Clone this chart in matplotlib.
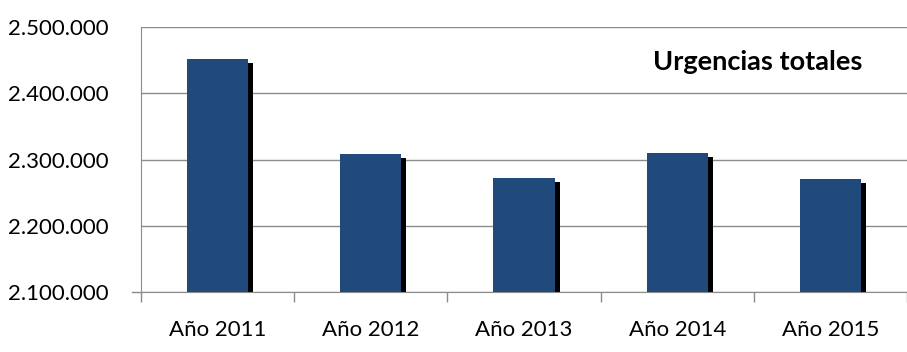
import numpy as np
import matplotlib
matplotlib.use("Agg")
import matplotlib.pyplot as plt
from matplotlib.ticker import FuncFormatter

# data
years = ["Año 2011", "Año 2012", "Año 2013", "Año 2014", "Año 2015"]
urgencias = [2451000, 2309000, 2272500, 2309500, 2270500]

bar_color = "#214a7c"
grid_color = "#8c8c8c"

plt.rcParams["font.family"] = ["Lato", "DejaVu Sans"]

fig = plt.figure(figsize=(9.07, 3.52), dpi=100)
# plot area: left 141px, top 27px, bottom 292px, runs off the right edge
ax = fig.add_axes([141 / 907, 1 - 292 / 352, (907 - 141) / 907, (292 - 27) / 352])

x = np.arange(len(years))
width = 0.40
base = 2100000
# px -> data offsets for the drop shadow
dx = 5 / 156
dy = 4 / 265 * 400000

vals = np.array(urgencias)
ax.bar(x + dx, vals - dy - base, width=width, bottom=base, color="black", zorder=2)
ax.bar(x, vals - base, width=width, bottom=base, color=bar_color, zorder=3)

ax.set_ylim(2100000, 2500000)
ax.set_yticks(np.arange(2100000, 2500001, 100000))
ax.yaxis.set_major_formatter(FuncFormatter(lambda v, p: f"{int(v):,}".replace(",", ".")))
ax.set_xlim(-0.5, 4.5 - 14 / 156)

ax.grid(axis="y", color=grid_color, linewidth=1, zorder=0)
ax.set_axisbelow(True)

for s in ["top", "right"]:
    ax.spines[s].set_visible(False)
ax.spines["left"].set_color(grid_color)
ax.spines["bottom"].set_color(grid_color)
ax.axhline(base, xmin=-0.012, xmax=0, color=grid_color, linewidth=1, clip_on=False)

ax.set_xticks(x)
ax.set_xticklabels(years)
ax.set_xticks(np.arange(-0.5, 5, 1.0), minor=True)
ax.tick_params(axis="x", which="major", length=0, pad=20, labelsize=16)
ax.tick_params(axis="x", which="minor", length=7, color=grid_color, width=1)
ax.tick_params(axis="y", length=0, pad=23, labelsize=16)

ax.text(0.805, 0.868, "Urgencias totales", transform=ax.transAxes, ha="center", va="center",
        fontsize=19.5, fontweight="bold")

fig.savefig("out.png", dpi=100)
